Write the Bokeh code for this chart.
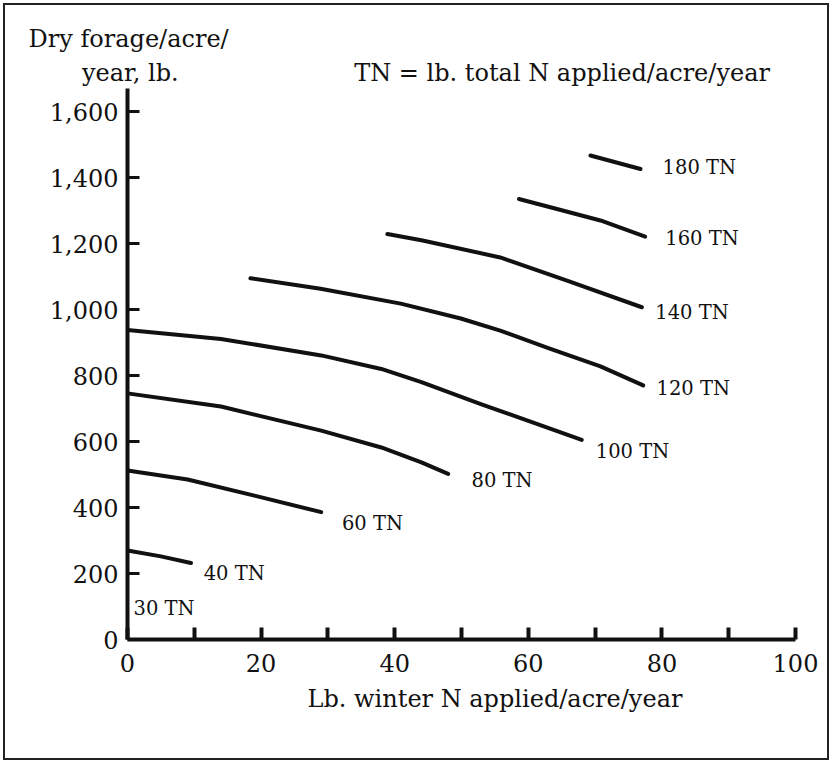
from bokeh.plotting import figure
from bokeh.models import FixedTicker, Label, NumeralTickFormatter, Title
from bokeh.embed import file_html
from bokeh.resources import INLINE

# ---- data ----
x_ticks = [0, 10, 20, 30, 40, 50, 60, 70, 80, 90, 100]
x_tick_labels = ["0", "", "20", "", "40", "", "60", "", "80", "", "100"]
y_ticks = [0, 200, 400, 600, 800, 1000, 1200, 1400, 1600]

tn40_x = [0, 5, 9.5]
tn40_y = [270, 252, 232]
tn60_x = [0, 9, 19, 29]
tn60_y = [512, 485, 436, 386]
tn80_x = [0, 14, 29, 38, 44, 48]
tn80_y = [746, 706, 633, 582, 537, 502]
tn100_x = [0, 14, 29, 38, 44, 53, 68]
tn100_y = [938, 911, 861, 820, 780, 713, 605]
tn120_x = [18.4, 28.9, 40.9, 49.9, 55.8, 62.9, 70.8, 77.2]
tn120_y = [1095, 1063, 1018, 973, 936, 884, 828, 770]
tn140_x = [38.9, 44, 55.8, 65.8, 77]
tn140_y = [1229, 1210, 1158, 1088, 1007]
tn160_x = [58.6, 63.3, 70.8, 77.5]
tn160_y = [1335, 1310, 1270, 1221]
tn180_x = [69.3, 76.8]
tn180_y = [1467, 1426]

curve_names = ["30 TN", "40 TN", "60 TN", "80 TN", "100 TN", "120 TN", "140  TN", "160 TN", "180 TN"]

# ---- layout / style ----
label_pos = {
    "30 TN": (0.9, 94),
    "40 TN": (11.4, 200),
    "60 TN": (32.1, 352),
    "80 TN": (51.5, 482),
    "100 TN": (70.1, 570),
    "120 TN": (79.2, 761),
    "140  TN": (79.0, 991),
    "160 TN": (80.5, 1215),
    "180 TN": (80.1, 1430),
}
FONT = "DejaVu Serif"
INK = "#111111"
NB = "\u00a0"

p = figure(width=832, height=763, x_range=(0, 100), y_range=(0, 1670),
           output_backend="svg", toolbar_location=None, title=None,
           min_border_left=127, min_border_right=37,
           min_border_top=88, min_border_bottom=124)
p.grid.visible = False
p.outline_line_color = None
p.background_fill_color = "white"
p.border_fill_color = None
p.styles = {"background-color": "white",
            "box-shadow": "inset 0 0 0 3px #ffffff, inset 0 0 0 5px #222222"}

xa = p.xaxis[0]
xa.ticker = FixedTicker(ticks=x_ticks)
xa.major_label_overrides = {t: l for t, l in zip(x_ticks, x_tick_labels)}
xa.axis_line_width = 4
xa.axis_line_color = INK
xa.major_tick_in = 12
xa.major_tick_out = 0
xa.major_tick_line_width = 4
xa.major_tick_line_color = INK
xa.minor_tick_line_color = None
xa.major_label_text_font = FONT
xa.major_label_text_font_size = "24px"
xa.major_label_text_color = INK
xa.major_label_standoff = 14

ya = p.yaxis[0]
ya.ticker = FixedTicker(ticks=y_ticks)
ya.formatter = NumeralTickFormatter(format="0,0")
ya.axis_line_width = 4
ya.axis_line_color = INK
ya.major_tick_in = 12
ya.major_tick_out = 0
ya.major_tick_line_width = 3
ya.major_tick_line_color = INK
ya.minor_tick_line_color = None
ya.major_label_text_font = FONT
ya.major_label_text_font_size = "24px"
ya.major_label_text_color = INK
ya.major_label_standoff = 9

for xs, ys in [(tn40_x, tn40_y), (tn60_x, tn60_y), (tn80_x, tn80_y),
               (tn100_x, tn100_y), (tn120_x, tn120_y), (tn140_x, tn140_y),
               (tn160_x, tn160_y), (tn180_x, tn180_y)]:
    p.line(xs, ys, line_width=4, line_color=INK, line_cap="round", line_join="round")

for name in curve_names:
    lx, ly = label_pos[name]
    p.add_layout(Label(x=lx, y=ly, text=name, text_font=FONT, text_font_size="19.5px",
                       text_color=INK, text_align="left", text_baseline="middle"))

top_title = Title(
    text="Dry forage/acre/\n" + NB * 7 + "year, lb." + NB * 23 + "TN = lb. total N applied/acre/year",
    align="left", offset=-99, standoff=3,
    text_font=FONT, text_font_size="24px", text_font_style="normal",
    text_color=INK, text_line_height=1.2)
p.add_layout(top_title, "above")

x_title = Title(text="Lb. winter N applied/acre/year", align="left", offset=180, standoff=17,
                text_font=FONT, text_font_size="24px", text_font_style="normal",
                text_color=INK)
p.add_layout(x_title, "below")

open("out.html", "w").write(file_html(p, INLINE))
